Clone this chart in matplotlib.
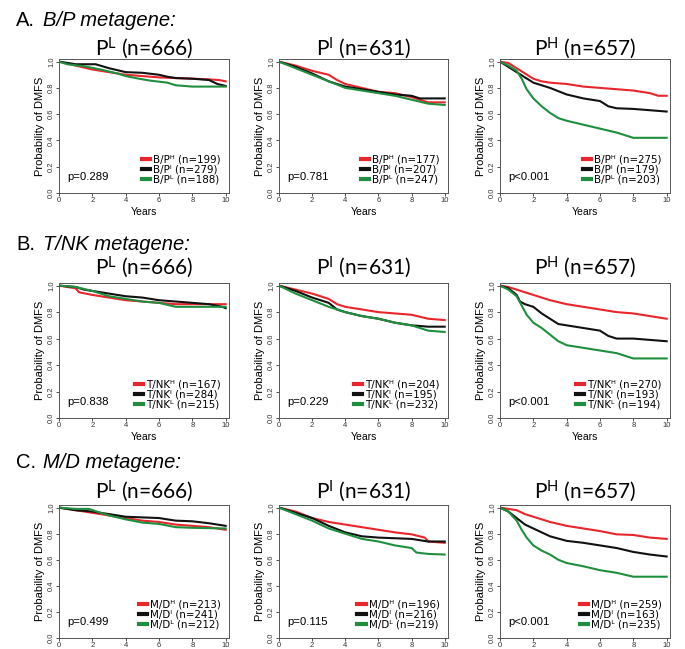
import matplotlib.pyplot as plt
from matplotlib.lines import Line2D

plt.rcParams['font.family'] = ['Liberation Sans', 'DejaVu Sans']
plt.rcParams['mathtext.default'] = 'regular'

W, H = 685, 649

RED = '#e8262b'
BLACK = '#111111'
GREEN = '#1f8f3f'

# (years, probability of DMFS)
# row A: B/P metagene
bp_pl_hi = [(0, 1.0), (1, 0.97), (2, 0.94), (3, 0.92), (4, 0.90), (5, 0.89), (6, 0.88), (7, 0.875), (8, 0.87), (9, 0.865), (9.6, 0.86), (10, 0.85)]
bp_pl_mid = [(0, 1.0), (1, 0.98), (2.2, 0.98), (3, 0.95), (4, 0.92), (5, 0.915), (6, 0.90), (6.5, 0.885), (7, 0.875), (8, 0.87), (9, 0.86), (9.5, 0.83), (10, 0.815)]
bp_pl_lo = [(0, 1.0), (0.5, 0.98), (1.5, 0.965), (2.5, 0.94), (3.5, 0.91), (4, 0.89), (4.8, 0.87), (5.5, 0.855), (6.5, 0.84), (7, 0.82), (8, 0.81), (10, 0.81)]

bp_pi_hi = [(0, 1.0), (1, 0.97), (2, 0.93), (3, 0.90), (3.5, 0.86), (4, 0.83), (5, 0.80), (6, 0.77), (7, 0.76), (8, 0.73), (8.5, 0.71), (9, 0.69), (10, 0.69)]
bp_pi_mid = [(0, 1.0), (1, 0.96), (2, 0.91), (2.5, 0.88), (3, 0.85), (4, 0.81), (5, 0.79), (6, 0.77), (7, 0.75), (8, 0.74), (8.5, 0.72), (10, 0.72)]
bp_pi_lo = [(0, 1.0), (1, 0.95), (2, 0.90), (3, 0.85), (4, 0.80), (5, 0.78), (6, 0.76), (7, 0.74), (8, 0.71), (9, 0.68), (10, 0.67)]

bp_ph_hi = [(0, 1.0), (0.5, 0.99), (1, 0.95), (1.5, 0.91), (2, 0.87), (2.5, 0.85), (3, 0.84), (4, 0.83), (5, 0.81), (6, 0.80), (7, 0.79), (8, 0.78), (9, 0.76), (9.5, 0.74), (10, 0.74)]
bp_ph_mid = [(0, 1.0), (0.5, 0.96), (1, 0.92), (1.5, 0.88), (2, 0.84), (2.5, 0.82), (3, 0.80), (4, 0.75), (5, 0.72), (6, 0.70), (6.5, 0.66), (7, 0.645), (8, 0.64), (9, 0.63), (10, 0.62)]
bp_ph_lo = [(0, 1.0), (0.5, 0.97), (1, 0.93), (1.3, 0.87), (1.6, 0.79), (2, 0.72), (2.5, 0.66), (3, 0.61), (3.5, 0.57), (4, 0.55), (5, 0.52), (6, 0.49), (7, 0.46), (7.5, 0.44), (8, 0.42), (10, 0.42)]

# row B: T/NK metagene
tnk_pl_hi = [(0, 1.0), (1, 0.98), (1.2, 0.95), (2, 0.93), (3, 0.91), (4, 0.89), (5, 0.88), (6, 0.87), (7, 0.86), (8, 0.86), (10, 0.86)]
tnk_pl_mid = [(0, 1.0), (1, 0.99), (1.5, 0.97), (2, 0.96), (3, 0.94), (4, 0.92), (5, 0.91), (6, 0.89), (7, 0.88), (8, 0.87), (9, 0.86), (9.8, 0.84), (10, 0.83)]
tnk_pl_lo = [(0, 1.0), (1, 0.99), (2, 0.96), (3, 0.92), (4, 0.90), (5, 0.88), (6, 0.87), (7, 0.84), (8, 0.84), (10, 0.84)]

tnk_pi_hi = [(0, 1.0), (1, 0.97), (2, 0.94), (3, 0.90), (3.5, 0.86), (4, 0.84), (5, 0.82), (6, 0.80), (7, 0.79), (8, 0.78), (9, 0.75), (10, 0.74)]
tnk_pi_mid = [(0, 1.0), (1, 0.96), (2, 0.91), (3, 0.87), (3.5, 0.82), (4, 0.80), (5, 0.77), (6, 0.75), (7, 0.72), (8, 0.70), (9, 0.69), (10, 0.69)]
tnk_pi_lo = [(0, 1.0), (1, 0.94), (2, 0.89), (3, 0.84), (4, 0.80), (5, 0.77), (6, 0.75), (7, 0.72), (8, 0.70), (9, 0.66), (10, 0.65)]

tnk_ph_hi = [(0, 1.0), (0.5, 0.99), (1, 0.97), (2, 0.93), (3, 0.89), (4, 0.86), (5, 0.84), (6, 0.82), (7, 0.80), (8, 0.79), (9, 0.77), (10, 0.75)]
tnk_ph_mid = [(0, 1.0), (0.5, 0.98), (1, 0.93), (1.2, 0.88), (1.5, 0.86), (2, 0.84), (2.5, 0.79), (3, 0.75), (3.5, 0.71), (4, 0.70), (5, 0.68), (6, 0.66), (6.5, 0.62), (7, 0.60), (8, 0.60), (10, 0.58)]
tnk_ph_lo = [(0, 1.0), (0.5, 0.97), (1, 0.92), (1.3, 0.85), (1.6, 0.78), (2, 0.72), (2.5, 0.68), (3, 0.63), (3.5, 0.58), (4, 0.55), (5, 0.53), (6, 0.51), (7, 0.49), (7.5, 0.47), (8, 0.45), (10, 0.45)]

# row C: M/D metagene
md_pl_hi = [(0, 1.0), (1, 0.98), (2, 0.96), (3, 0.94), (4, 0.92), (5, 0.90), (6, 0.89), (7, 0.87), (8, 0.86), (9, 0.85), (10, 0.83)]
md_pl_mid = [(0, 1.0), (1, 0.98), (2, 0.97), (3, 0.95), (4, 0.93), (5, 0.925), (6, 0.92), (7, 0.90), (8, 0.895), (9, 0.88), (10, 0.86)]
md_pl_lo = [(0, 1.0), (1, 0.99), (1.8, 0.99), (2.5, 0.96), (3, 0.94), (4, 0.91), (5, 0.885), (6, 0.875), (7, 0.85), (8, 0.845), (10, 0.84)]

md_pi_hi = [(0, 1.0), (1, 0.97), (2, 0.92), (3, 0.89), (4, 0.87), (5, 0.85), (6, 0.83), (7, 0.81), (8, 0.795), (8.8, 0.77), (9, 0.74), (10, 0.73)]
md_pi_mid = [(0, 1.0), (1, 0.96), (1.5, 0.94), (2, 0.92), (3, 0.86), (4, 0.81), (5, 0.78), (6, 0.77), (7, 0.765), (8, 0.76), (9, 0.74), (10, 0.74)]
md_pi_lo = [(0, 1.0), (1, 0.95), (2, 0.90), (3, 0.84), (4, 0.80), (5, 0.76), (6, 0.74), (7, 0.71), (8, 0.69), (8.3, 0.655), (9, 0.645), (10, 0.64)]

md_ph_hi = [(0, 1.0), (0.5, 0.99), (1, 0.98), (1.5, 0.95), (2, 0.93), (3, 0.89), (4, 0.86), (5, 0.84), (6, 0.82), (7, 0.795), (8, 0.79), (9, 0.77), (10, 0.76)]
md_ph_mid = [(0, 1.0), (0.5, 0.97), (1, 0.92), (1.5, 0.87), (2, 0.84), (3, 0.78), (4, 0.745), (5, 0.73), (6, 0.71), (7, 0.69), (8, 0.66), (9, 0.64), (10, 0.625)]
md_ph_lo = [(0, 1.0), (0.5, 0.97), (1, 0.90), (1.3, 0.83), (1.6, 0.77), (2, 0.71), (2.5, 0.67), (3, 0.64), (3.5, 0.60), (4, 0.575), (5, 0.55), (6, 0.52), (7, 0.50), (8, 0.47), (10, 0.47)]

metagenes = ['B/P', 'T/NK', 'M/D']
row_letters = ['A.', 'B.', 'C.']
group_sup = ['L', 'I', 'H']
group_n = [666, 631, 657]
legend_sup = ['ᴴ', 'ᴵ', 'ᴸ']

bp_counts = [[199, 279, 188], [177, 207, 247], [275, 179, 203]]
tnk_counts = [[167, 284, 215], [204, 195, 232], [270, 193, 194]]
md_counts = [[213, 241, 212], [196, 216, 219], [259, 163, 235]]

bp_pvals = ['p=0.289', 'p=0.781', 'p<0.001']
tnk_pvals = ['p=0.838', 'p=0.229', 'p<0.001']
md_pvals = ['p=0.499', 'p=0.115', 'p<0.001']

curves = [
    [[bp_pl_hi, bp_pl_mid, bp_pl_lo], [bp_pi_hi, bp_pi_mid, bp_pi_lo], [bp_ph_hi, bp_ph_mid, bp_ph_lo]],
    [[tnk_pl_hi, tnk_pl_mid, tnk_pl_lo], [tnk_pi_hi, tnk_pi_mid, tnk_pi_lo], [tnk_ph_hi, tnk_ph_mid, tnk_ph_lo]],
    [[md_pl_hi, md_pl_mid, md_pl_lo], [md_pi_hi, md_pi_mid, md_pi_lo], [md_ph_hi, md_ph_mid, md_ph_lo]],
]
counts = [bp_counts, tnk_counts, md_counts]
pvals = [bp_pvals, tnk_pvals, md_pvals]

# layout in pixels
col_left = [59, 279, 500]
col_w = [170, 169, 170]
row_top = [59, 283, 505]
row_bottom = [193, 418, 638]
row_title_y = [21, 244, 462]
sub_title_y = [48, 267, 491]

fig = plt.figure(figsize=(W / 100, H / 100), dpi=100)

for r in range(3):
    fig.text(16 / W, 1 - row_title_y[r] / H, row_letters[r], fontsize=14.5, va='center', ha='left')
    fig.text(43 / W, 1 - row_title_y[r] / H, metagenes[r] + ' metagene:', fontsize=14.5,
             style='italic', va='center', ha='left')
    for c in range(3):
        x0 = col_left[c] / W
        y0 = 1 - row_bottom[r] / H
        ax = fig.add_axes([x0, y0, col_w[c] / W, (row_bottom[r] - row_top[r]) / H])
        cx = (col_left[c] + col_w[c] / 2) / W
        fig.text(cx, 1 - sub_title_y[r] / H, 'P$^{%s}$ (n=%d)' % (group_sup[c], group_n[c]),
                 fontsize=15, family=['Lato', 'DejaVu Sans'], ha='center', va='center')

        cols = [RED, BLACK, GREEN]
        handles = []
        labels = []
        for k in range(3):
            pts = curves[r][c][k]
            t = [p[0] for p in pts]
            s = [p[1] for p in pts]
            ax.plot(t, s, color=cols[k], lw=1.5, solid_joinstyle='miter')
            handles.append(Line2D([], [], color=cols[k], lw=3))
            labels.append('%s%s (n=%d)' % (metagenes[r], legend_sup[k], counts[r][c][k]))

        ax.legend(handles, labels, loc='lower right', frameon=False,
                  prop={'family': ['DejaVu Sans'], 'size': 7.4},
                  handlelength=0.8, handletextpad=0.3, labelspacing=0.02,
                  borderaxespad=0.6, borderpad=0.2)
        ax.text(0.05, 0.12, pvals[r][c], transform=ax.transAxes, fontsize=8.2, va='center')

        ax.set_xlim(0, 10.2)
        ax.set_ylim(0, 1.02)
        ax.set_xticks([0, 2, 4, 6, 8, 10])
        ax.set_yticks([0.0, 0.2, 0.4, 0.6, 0.8, 1.0])
        ax.set_yticklabels(['0.0', '0.2', '0.4', '0.6', '0.8', '1.0'], rotation=90, va='center')
        ax.tick_params(labelsize=5.5, length=2, width=0.6, pad=0.8, colors='#333333')
        ax.set_ylabel('Probability of DMFS', fontsize=8, labelpad=2)
        if r < 2:
            # the bottom row's axis title falls below the picture edge
            ax.set_xlabel('Years', fontsize=7.5, labelpad=2)
        for sp in ax.spines.values():
            sp.set_linewidth(0.7)
            sp.set_color('#555555')

fig.savefig('out.png', dpi=100)
